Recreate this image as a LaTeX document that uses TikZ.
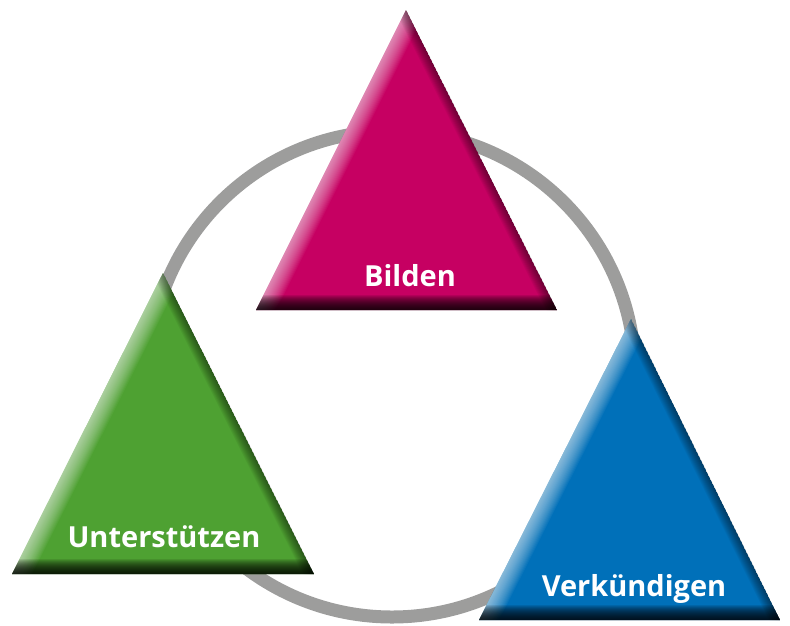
\documentclass[tikz,border=0pt]{standalone}
\usepackage{fontspec}
\setmainfont{Open Sans}
\definecolor{ringgray}{RGB}{157,157,156}
\definecolor{pinkc}{RGB}{198,0,98}
\definecolor{greenc}{RGB}{78,161,50}
\definecolor{bluec}{RGB}{0,112,185}
\tikzset{
  ring/.style={draw=ringgray, line width=13pt},
  label/.style={text=white, anchor=base, inner sep=0pt, font=\fontsize{29}{31}\selectfont\bfseries},
}
\newcommand{\bevtri}[4]{%
  \begin{scope}
    \clip (#1) -- (#2) -- (#3) -- cycle;
    \fill[#4] (#1) -- (#2) -- (#3) -- cycle;
    \foreach \w in {1,...,18} {\draw[white, opacity=0.045, line width=2*\w pt] (#1) -- (#2);}
    \foreach \w in {1,...,10} {\draw[black, opacity=0.05, line width=2*\w pt] (#1) -- (#3);}
    \foreach \w in {1,...,15} {\draw[black, opacity=0.1, line width=2*\w pt] (#2) -- (#3);}
  \end{scope}}
\begin{document}
\begin{tikzpicture}[x=1pt, y=-1pt]
  \useasboundingbox (0,0) rectangle (790,625);
  % ring
  \coordinate (c) at (392,374);
  \draw[ring] (c) circle[radius=243];
  % pink
  \coordinate (pA) at (406,10);
  \coordinate (pL) at (256,310);
  \coordinate (pR) at (557,310);
  \bevtri{pA}{pL}{pR}{pinkc}
  % green
  \coordinate (gA) at (163,273);
  \coordinate (gL) at (12,574);
  \coordinate (gR) at (314,574);
  \bevtri{gA}{gL}{gR}{greenc}
  % blue
  \coordinate (bA) at (631,319);
  \coordinate (bL) at (479,620);
  \coordinate (bR) at (780,620);
  \bevtri{bA}{bL}{bR}{bluec}
  % labels
  \node[label] (bilden) at (410,286) {Bilden};
  \node[label] (unter) at (164,547) {Unterstützen};
  \node[label] (verk) at (634,596) {Verkündigen};
\end{tikzpicture}
\end{document}
